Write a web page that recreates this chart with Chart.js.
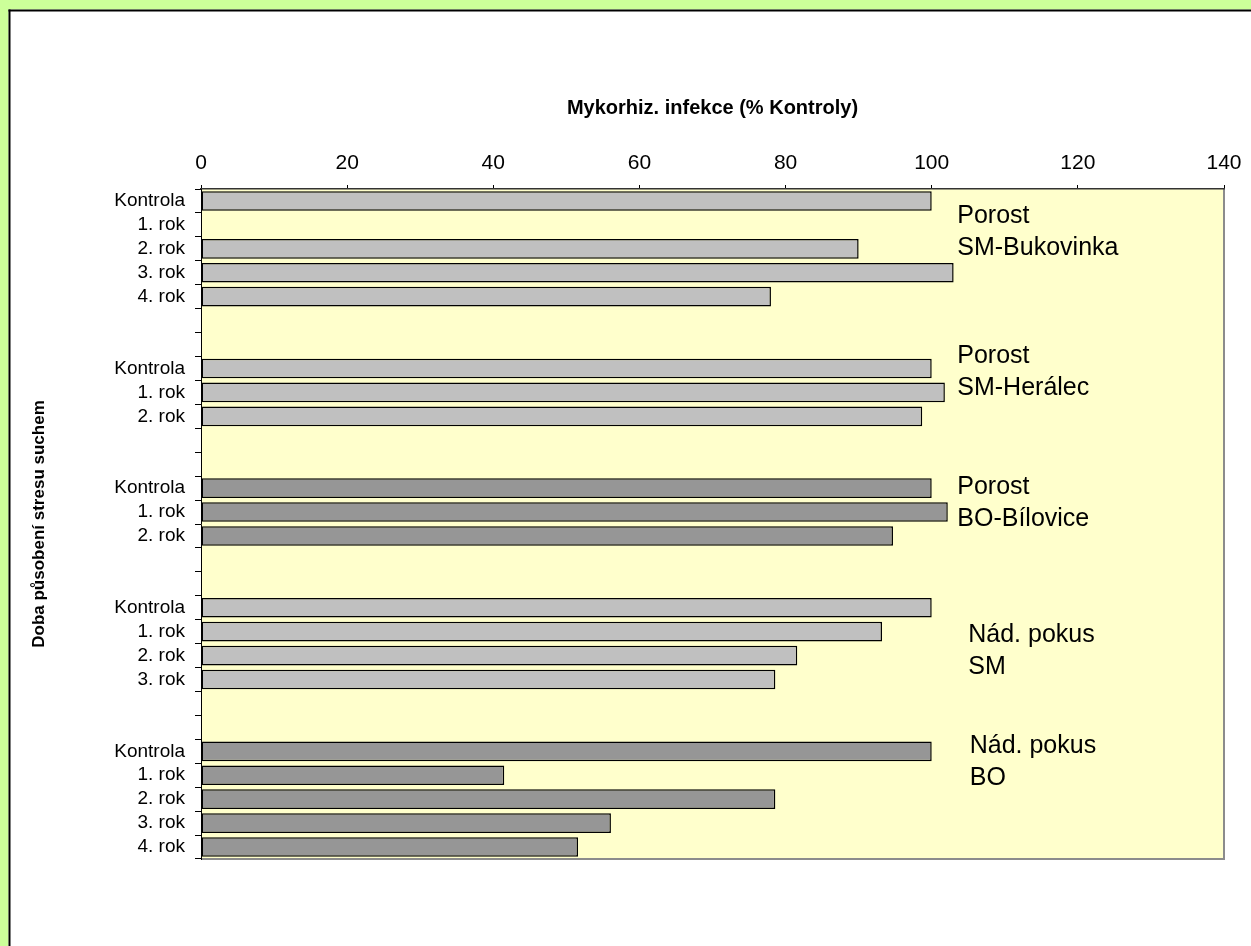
<!DOCTYPE html>
<html>
<head>
<meta charset="utf-8">
<script src="https://cdn.jsdelivr.net/npm/chart.js@4.4.1/dist/chart.umd.min.js"></script>
<style>
  html, body { margin: 0; padding: 0; background: #ffffff; }
  #wrap { width: 1251px; height: 946px; }
</style>
</head>
<body>
<div id="wrap"><canvas id="c" width="1251" height="946"></canvas></div>
<script>
// Row labels used inside every stand / experiment block
const yearLabels = ['Kontrola', '1. rok', '2. rok', '3. rok', '4. rok'];

// Mycorrhizal infection, % of control, per block (null = no value)
const bukovinka = [100, null, 90, 103, 78];
const heralec   = [100, 101.8, 98.7];
const bilovice  = [100, 102.2, 94.7];
const nadobaSM  = [100, 93.2, 81.6, 78.6];
const nadobaBO  = [100, 41.5, 78.6, 56.1, 51.6];

// Block captions (two lines each)
const blockNames = [
  ['Porost', 'SM-Bukovinka'],
  ['Porost', 'SM-Herálec'],
  ['Porost', 'BO-Bílovice'],
  ['Nád. pokus', 'SM'],
  ['Nád. pokus', 'BO']
];
const blockSpecies = ['SM', 'SM', 'BO', 'SM', 'BO'];

// Axis ticks
const xTicks = [0, 20, 40, 60, 80, 100, 120, 140];

const axisTitleX = 'Mykorhiz. infekce (% Kontroly)';
const axisTitleY = 'Doba působení stresu suchem';

// ---- build category rows (two empty rows between blocks) ----
const blocks = [bukovinka, heralec, bilovice, nadobaSM, nadobaBO];
const speciesColor = { SM: '#C0C0C0', BO: '#969696' };
const labels = [];
const values = [];
const colors = [];
const blockStart = [];
blocks.forEach((blk, b) => {
  if (b > 0) {
    for (let k = 0; k < 2; k++) { labels.push(''); values.push(null); colors.push('#ffffff'); }
  }
  blockStart.push(labels.length);
  blk.forEach((v, i) => {
    labels.push(yearLabels[i]);
    values.push(v);
    colors.push(speciesColor[blockSpecies[b]]);
  });
});

// caption placement: [x value, row offset from block start]
const captionPos = [[103.5, 0.65], [103.5, -0.52], [103.5, -0.05], [105.0, 1.15], [105.2, -0.22]];

const FONT = "'Liberation Sans', Arial, Helvetica, sans-serif";

const framePlugin = {
  id: 'frame',
  beforeDraw(chart) {
    const { ctx, width, height, chartArea: a } = chart;
    ctx.save();
    ctx.fillStyle = '#ffffff';
    ctx.fillRect(0, 0, width, height);
    ctx.fillStyle = '#CCFF99';
    ctx.fillRect(0, 0, width, 9.5);
    ctx.fillRect(0, 0, 8.5, height);
    ctx.fillStyle = '#000000';
    ctx.fillRect(8.5, 9.5, width, 2);
    ctx.fillRect(8.5, 9.5, 2, height);
    // plot area
    ctx.fillStyle = '#FFFFCC';
    ctx.fillRect(a.left, a.top, a.right - a.left, a.bottom - a.top);
    ctx.strokeStyle = '#8c8c8c';
    ctx.lineWidth = 2;
    ctx.beginPath();
    ctx.moveTo(a.right, a.top);
    ctx.lineTo(a.right, a.bottom);
    ctx.lineTo(a.left, a.bottom);
    ctx.stroke();
    ctx.restore();
  }
};

const captionPlugin = {
  id: 'captions',
  afterDatasetsDraw(chart) {
    const { ctx, scales: { x, y } } = chart;
    ctx.save();
    ctx.font = '25px ' + FONT;
    ctx.fillStyle = '#000000';
    ctx.textAlign = 'left';
    ctx.textBaseline = 'middle';
    blockNames.forEach((lines, b) => {
      const px = x.getPixelForValue(captionPos[b][0]);
      const py = y.getPixelForValue(blockStart[b] + captionPos[b][1]);
      lines.forEach((t, i) => ctx.fillText(t, px, py + i * 32));
    });
    ctx.restore();
  }
};

new Chart(document.getElementById('c'), {
  type: 'bar',
  data: {
    labels: labels,
    datasets: [{
      data: values,
      backgroundColor: colors,
      borderColor: '#000000',
      borderWidth: 1.5,
      borderSkipped: false,
      barPercentage: 0.82,
      categoryPercentage: 1.0
    }]
  },
  options: {
    indexAxis: 'y',
    responsive: false,
    animation: false,
    devicePixelRatio: 1,
    layout: { padding: { left: 0, top: 0, right: 27, bottom: 87 } },
    plugins: { legend: { display: false }, tooltip: { enabled: false } },
    scales: {
      x: {
        position: 'top',
        min: 0,
        max: 140,
        afterBuildTicks(scale) { scale.ticks = xTicks.map(v => ({ value: v })); },
        afterFit(scale) { scale.height = 189; },
        ticks: { font: { family: FONT, size: 21 }, color: '#000000', padding: 9 },
        grid: { drawOnChartArea: false, drawTicks: true, tickLength: 4, tickColor: '#000000' },
        border: { display: true, color: '#333333', width: 1.5 },
        title: {
          display: true,
          text: axisTitleX,
          color: '#000000',
          font: { family: FONT, size: 20, weight: 'bold' },
          padding: { top: 96, bottom: 0 }
        }
      },
      y: {
        type: 'category',
        afterFit(scale) { scale.width = 201; },
        ticks: { autoSkip: false, font: { family: FONT, size: 19 }, color: '#000000', padding: 10 },
        grid: { offset: true, drawOnChartArea: false, drawTicks: true, tickLength: 6, tickColor: '#000000' },
        border: { display: true, color: '#000000', width: 1 },
        title: {
          display: true,
          text: axisTitleY,
          color: '#000000',
          font: { family: FONT, size: 17, weight: 'bold' },
          padding: { top: 29, bottom: 0 }
        }
      }
    }
  },
  plugins: [framePlugin, captionPlugin]
});
</script>
</body>
</html>
